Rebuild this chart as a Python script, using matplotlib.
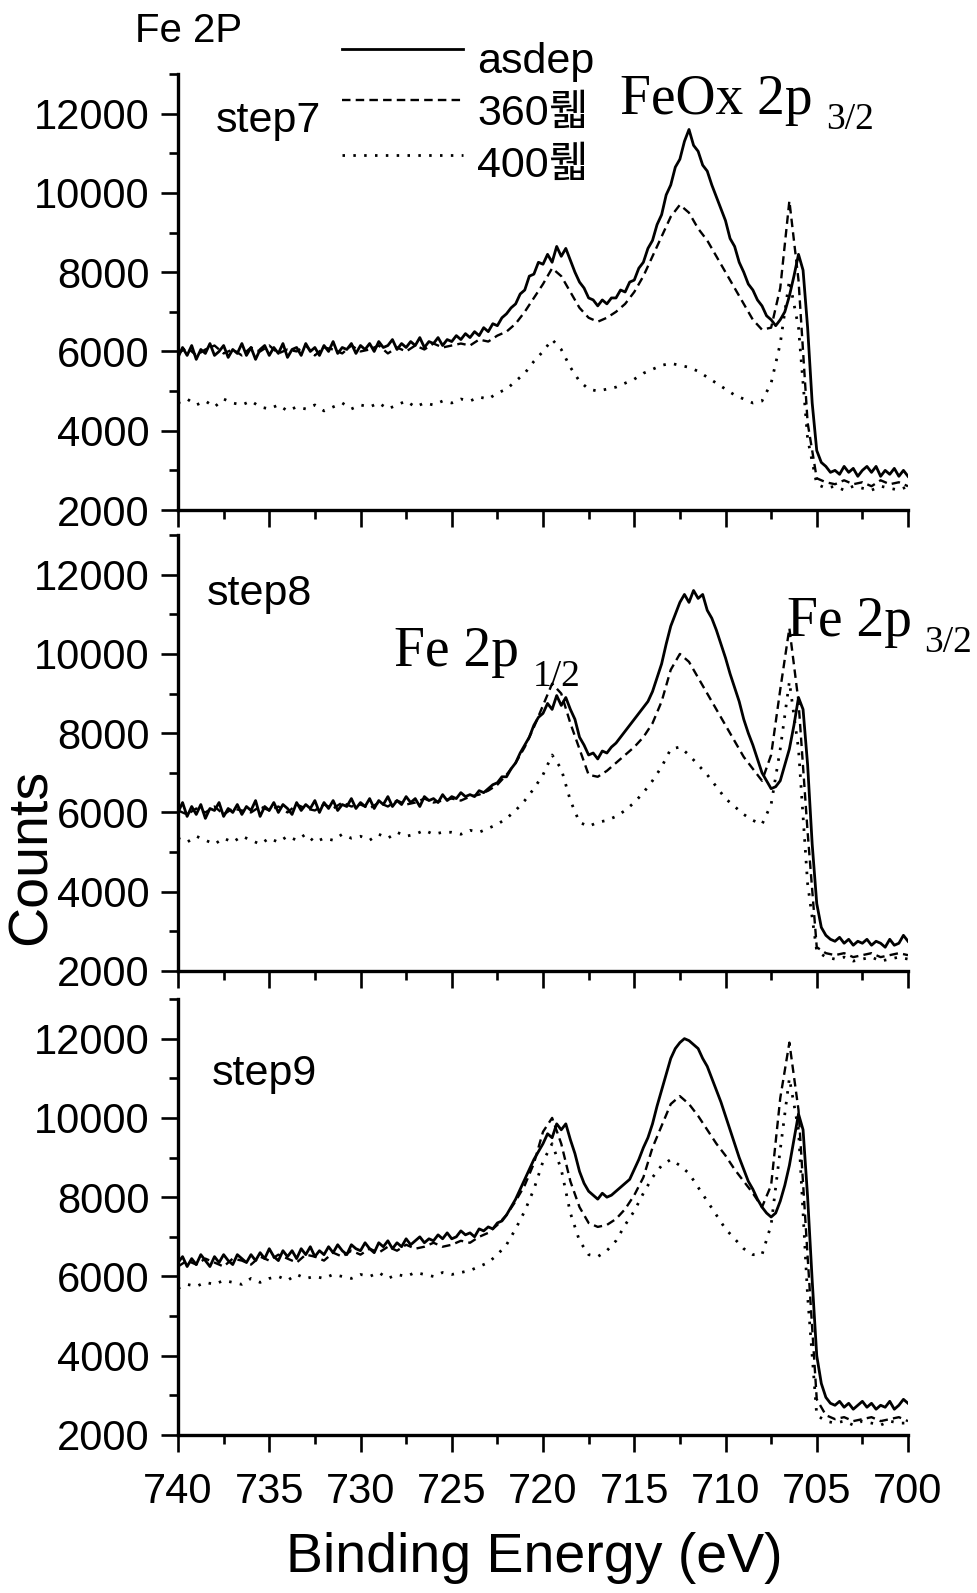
import numpy as np
import matplotlib
matplotlib.use("Agg")
import matplotlib.pyplot as plt
from matplotlib.lines import Line2D
from matplotlib.ticker import MultipleLocator

plt.rcParams['font.family'] = ['Liberation Sans', 'Noto Sans CJK KR']

# Binding-energy sampling grids (eV): asdep scans at 0.25 eV, annealed scans at 0.5 eV
energy_fine = np.linspace(740, 700, 161)
energy_coarse = np.linspace(740, 700, 81)

steps = ["step7", "step8", "step9"]
series_labels = ["asdep", "360뤫", "400뤫"]
xtick_values = [740, 735, 730, 725, 720, 715, 710, 705, 700]
ytick_values = [2000, 4000, 6000, 8000, 10000, 12000]

# ---- step7 ----
asdep_step7 = [
    5850, 6100, 5900, 6150, 5800, 6050, 5950, 6200,   # 740 - 738.25
    5900, 6000, 6150, 5850, 6050, 5950, 6200, 5900,   # 738 - 736.25
    6100, 5800, 6050, 6150, 5900, 6100, 5950, 6200,   # 736 - 734.25
    5850, 6050, 6100, 5900, 6200, 6000, 6100, 5900,   # 734 - 732.25
    6150, 6000, 6250, 5950, 6100, 6050, 6200, 5950,   # 732 - 730.25
    6150, 6050, 6200, 6000, 6250, 6100, 6150, 6300,   # 730 - 728.25
    6050, 6200, 6100, 6250, 6150, 6350, 6100, 6250,   # 728 - 726.25
    6200, 6350, 6150, 6300, 6250, 6400, 6300, 6450,   # 726 - 724.25
    6350, 6500, 6400, 6600, 6500, 6700, 6650, 6850,   # 724 - 722.25
    6950, 7100, 7200, 7450, 7550, 7900, 7950, 8250,   # 722 - 720.25
    8200, 8450, 8250, 8650, 8400, 8600, 8300, 8000,   # 720 - 718.25
    7750, 7600, 7350, 7300, 7150, 7300, 7200, 7350,   # 718 - 716.25
    7350, 7550, 7500, 7750, 7800, 8100, 8250, 8600,   # 716 - 714.25
    8800, 9200, 9450, 9950, 10200, 10650, 10850, 11300,  # 714 - 712.25
    11600, 11200, 11050, 10700, 10550, 10200, 9900, 9600,  # 712 - 710.25
    9300, 8850, 8650, 8250, 8000, 7700, 7550, 7300,   # 710 - 708.25
    7150, 6900, 6800, 6650, 6800, 7000, 7400, 7900,   # 708 - 706.25
    8450, 8050, 6600, 4700, 3500, 3200, 3100, 2950,   # 706 - 704.25
    3000, 2900, 3100, 2950, 3050, 2850, 3000, 3100,   # 704 - 702.25
    2950, 3100, 2850, 3000, 2900, 3050, 2850, 3000,   # 702 - 700.25
    2850,                                             # 700
]
ann360_step7 = [
    5950, 6100, 5900, 6050, 6150, 5950, 6050, 5900, 6100, 6000,   # 740 - 735.5
    6150, 5950, 6050, 6000, 6150, 5900, 6100, 6050, 5950, 6150,   # 735 - 730.5
    6000, 6050, 6150, 5950, 6100, 6000, 6150, 6050, 6200, 6100,   # 730 - 725.5
    6150, 6200, 6150, 6300, 6250, 6400, 6500, 6700, 7000, 7350,   # 725 - 720.5
    7700, 8100, 7900, 7500, 7100, 6850, 6750, 6850, 7000, 7200,   # 720 - 715.5
    7500, 7900, 8400, 8900, 9400, 9700, 9500, 9100, 8800, 8400,   # 715 - 710.5
    8000, 7600, 7200, 6800, 6550, 6600, 7600, 9800, 7800, 4200,   # 710 - 705.5
    2800, 2700, 2650, 2750, 2650, 2700, 2600, 2750, 2650, 2700,   # 705 - 700.5
    2600,
]
ann400_step7 = [
    4700, 4800, 4650, 4750, 4600, 4800, 4700, 4650, 4750, 4600,
    4550, 4650, 4500, 4600, 4550, 4650, 4500, 4600, 4700, 4550,
    4650, 4600, 4700, 4550, 4650, 4750, 4600, 4700, 4650, 4750,
    4700, 4800, 4750, 4850, 4800, 4950, 5050, 5250, 5450, 5750,
    6000, 6300, 6050, 5600, 5250, 5050, 5000, 5050, 5100, 5200,
    5300, 5450, 5550, 5650, 5700, 5650, 5600, 5500, 5350, 5200,
    5050, 4900, 4800, 4700, 4750, 5200, 6200, 7800, 6600, 3800,
    2650, 2550, 2600, 2500, 2600, 2550, 2500, 2600, 2550, 2500,
    2600,
]

# ---- step8 ----
asdep_step8 = [
    6000, 6250, 5900, 6150, 5950, 6200, 5850, 6100,
    6050, 6250, 5900, 6100, 6000, 6200, 5950, 6150,
    6050, 6300, 5900, 6150, 6050, 6250, 6000, 6200,
    6100, 5950, 6250, 6050, 6200, 6100, 6300, 6000,
    6250, 6100, 6300, 6050, 6200, 6150, 6350, 6100,
    6250, 6150, 6350, 6100, 6300, 6200, 6400, 6150,
    6300, 6200, 6400, 6250, 6350, 6150, 6400, 6300,
    6350, 6250, 6450, 6300, 6400, 6350, 6500, 6400,
    6450, 6400, 6550, 6500, 6600, 6700, 6750, 6900,
    6900, 7100, 7250, 7500, 7700, 7900, 8200, 8400,
    8500, 8750, 8600, 8950, 8700, 8900, 8600, 8350,
    7900, 7700, 7450, 7500, 7350, 7550, 7500, 7650,
    7750, 7900, 8050, 8200, 8350, 8500, 8650, 8800,
    9050, 9400, 9750, 10250, 10700, 11000, 11300, 11500,
    11300, 11600, 11400, 11500, 11100, 10900, 10600, 10250,
    9900, 9500, 9150, 8800, 8350, 8000, 7700, 7350,
    7000, 6800, 6600, 6650, 6800, 7200, 7600, 8200,
    8900, 8600, 7200, 5200, 3700, 3100, 2900, 2800,
    2750, 2850, 2700, 2800, 2650, 2750, 2700, 2800,
    2650, 2750, 2700, 2600, 2800, 2650, 2700, 2900,
    2750,
]
ann360_step8 = [
    6050, 5950, 6100, 6000, 6150, 5950, 6100, 6050, 6000, 6150,
    6050, 6150, 6000, 6200, 6100, 6050, 6200, 6100, 6250, 6150,
    6200, 6100, 6250, 6150, 6300, 6200, 6250, 6350, 6250, 6300,
    6350, 6300, 6400, 6450, 6550, 6700, 6950, 7250, 7650, 8150,
    8700, 9250, 9000, 8250, 7600, 6950, 6900, 7050, 7250, 7450,
    7650, 7900, 8250, 8800, 9600, 10000, 9800, 9400, 9000, 8600,
    8200, 7800, 7400, 7100, 6800, 7450, 9100, 10650, 8800, 5500,
    2600, 2450, 2400, 2450, 2350, 2400, 2450, 2350, 2400, 2450,
    2400,
]
ann400_step8 = [
    5350, 5250, 5400, 5300, 5200, 5350, 5250, 5400, 5300, 5200,
    5350, 5250, 5400, 5300, 5450, 5250, 5350, 5300, 5450, 5350,
    5400, 5300, 5450, 5350, 5500, 5400, 5450, 5550, 5450, 5500,
    5500, 5450, 5550, 5500, 5600, 5700, 5850, 6050, 6300, 6600,
    6950, 7450, 7100, 6300, 5750, 5650, 5750, 5800, 5900, 6050,
    6250, 6500, 6800, 7150, 7600, 7650, 7450, 7200, 6950, 6650,
    6350, 6150, 5950, 5800, 5700, 6200, 7600, 9300, 7600, 4200,
    2500, 2350, 2300, 2350, 2250, 2300, 2350, 2250, 2300, 2350,
    2300,
]

# ---- step9 ----
asdep_step9 = [
    6350, 6500, 6250, 6450, 6300, 6550, 6400, 6250,
    6500, 6350, 6550, 6400, 6300, 6550, 6450, 6350,
    6550, 6400, 6600, 6450, 6700, 6500, 6400, 6650,
    6500, 6650, 6450, 6700, 6550, 6750, 6500, 6650,
    6550, 6750, 6600, 6800, 6650, 6550, 6800, 6700,
    6650, 6850, 6700, 6600, 6850, 6750, 6900, 6700,
    6850, 6750, 6950, 6800, 6900, 7000, 6850, 6950,
    6900, 7050, 6950, 7100, 6950, 7000, 7150, 7050,
    7100, 7000, 7200, 7150, 7250, 7200, 7350, 7400,
    7550, 7750, 7950, 8200, 8450, 8700, 8950, 9150,
    9350, 9600, 9500, 9850, 9700, 9850, 9450, 9100,
    8650, 8350, 8150, 8050, 7950, 8100, 8000, 8050,
    8150, 8250, 8350, 8450, 8700, 8950, 9250, 9500,
    9850, 10300, 10700, 11100, 11500, 11750, 11900, 12000,
    11950, 11850, 11750, 11500, 11300, 11000, 10700, 10400,
    10050, 9700, 9350, 9000, 8700, 8400, 8200, 7950,
    7750, 7600, 7500, 7600, 7900, 8300, 8800, 9450,
    10100, 9700, 8000, 5900, 4000, 3300, 2950, 2800,
    2750, 2850, 2700, 2800, 2650, 2750, 2850, 2700,
    2800, 2650, 2750, 2700, 2850, 2650, 2750, 2900,
    2800,
]
ann360_step9 = [
    6250, 6400, 6300, 6450, 6350, 6250, 6450, 6400, 6300, 6500,
    6400, 6550, 6450, 6350, 6550, 6500, 6400, 6600, 6500, 6650,
    6550, 6700, 6600, 6750, 6650, 6800, 6700, 6750, 6850, 6750,
    6800, 6900, 6850, 7000, 7100, 7300, 7550, 7900, 8300, 8850,
    9650, 10000, 9350, 8400, 7750, 7350, 7250, 7300, 7450, 7700,
    8050, 8500, 9250, 9800, 10350, 10550, 10350, 10050, 9700, 9350,
    9050, 8700, 8400, 8100, 7750, 8300, 10500, 11900, 10200, 6500,
    2900, 2500, 2400, 2450, 2350, 2400, 2450, 2350, 2400, 2450,
    2350,
]
ann400_step9 = [
    5700, 5800, 5750, 5850, 5800, 5900, 5850, 5800, 5950, 5850,
    5950, 6000, 5900, 6050, 5950, 6000, 5950, 6050, 6000, 5950,
    6050, 6000, 6100, 5950, 6050, 6000, 6100, 6050, 6000, 6100,
    6050, 6100, 6150, 6250, 6350, 6550, 6800, 7200, 7650, 8200,
    8900, 9350, 8700, 7600, 6900, 6550, 6500, 6650, 6900, 7300,
    7650, 8100, 8500, 8800, 8950, 8800, 8600, 8250, 7900, 7550,
    7200, 6950, 6700, 6550, 6550, 7300, 9200, 11000, 9700, 5500,
    2500, 2350, 2300, 2350, 2250, 2350, 2300, 2250, 2350, 2300,
    2300,
]

asdep_all = [asdep_step7, asdep_step8, asdep_step9]
ann360_all = [ann360_step7, ann360_step8, ann360_step9]
ann400_all = [ann400_step7, ann400_step8, ann400_step9]
for a in asdep_all:
    assert len(a) == len(energy_fine)
for a in ann360_all + ann400_all:
    assert len(a) == len(energy_coarse)

W, H = 977, 1593
fig = plt.figure(figsize=(W / 100, H / 100), dpi=100)


def fx(x):
    return x / W


def fy(y):
    return 1 - y / H


solid_kw = dict(color='black', lw=2.0, linestyle='-')
dash_kw = dict(color='black', lw=1.7, linestyle=(0, (3.6, 2.2)))
dot_kw = dict(color='black', lw=2.0, linestyle=(0, (0.9, 3.0)))

panel_rows = [(74, 510), (535, 971), (999, 1435)]
left_px, right_px = 178, 908
step_label_pos = [(216, 132), (207, 605), (212, 1085)]

axes = []
for k, (top, bottom) in enumerate(panel_rows):
    ax = fig.add_axes([fx(left_px), fy(bottom), (right_px - left_px) / W,
                       (bottom - top) / H])
    ax.plot(energy_fine, asdep_all[k], **solid_kw)
    ax.plot(energy_coarse, ann360_all[k], **dash_kw)
    ax.plot(energy_coarse, ann400_all[k], **dot_kw)
    ax.set_xlim(740, 700)
    ax.set_ylim(2000, 13000)
    ax.set_xticks(xtick_values)
    ax.xaxis.set_minor_locator(MultipleLocator(2.5))
    ax.set_yticks(ytick_values)
    ax.yaxis.set_minor_locator(MultipleLocator(1000))
    for s in ('top', 'right'):
        ax.spines[s].set_visible(False)
    for s in ('left', 'bottom'):
        ax.spines[s].set_linewidth(2.4)
    ax.tick_params(which='major', direction='out', length=12.5, width=1.9,
                   labelsize=30, pad=8)
    ax.tick_params(which='minor', direction='out', length=6.5, width=1.9)
    ax.tick_params(axis='x', which='major', pad=14)
    if k < 2:
        ax.tick_params(axis='x', labelbottom=False)
    ax.patch.set_alpha(0)
    lx, ly = step_label_pos[k]
    fig.text(fx(lx), fy(ly), steps[k], fontsize=31, va='baseline', ha='left')
    axes.append(ax)

# axis titles
fig.text(fx(32), fy(857), "Counts", fontsize=40, rotation=90,
         ha='center', va='center')
fig.text(fx(534), fy(1572), "Binding Energy (eV)", fontsize=40,
         ha='center', va='baseline')
fig.text(fx(135), fy(42), "Fe 2P", fontsize=29, ha='left', va='baseline')

# legend
legend_rows = [(49, 73, solid_kw), (100, 125, dash_kw), (155, 177, dot_kw)]
for (line_y, text_y, kw), lab in zip(legend_rows, series_labels):
    fig.add_artist(Line2D([fx(342), fx(463)], [fy(line_y), fy(line_y)], **kw))
    fig.text(fx(477), fy(text_y), lab, fontsize=31, ha='left', va='baseline')

# peak annotations
serif = ['Liberation Serif']
fig.text(fx(620), fy(114), "FeOx 2p", fontsize=40, family=serif,
         ha='left', va='baseline')
fig.text(fx(826), fy(129), "3/2", fontsize=27, family=serif,
         ha='left', va='baseline')
fig.text(fx(394), fy(666), "Fe 2p", fontsize=40, family=serif,
         ha='left', va='baseline')
fig.text(fx(533), fy(686), "1/2", fontsize=27, family=serif,
         ha='left', va='baseline')
fig.text(fx(787), fy(636), "Fe 2p", fontsize=40, family=serif,
         ha='left', va='baseline')
fig.text(fx(924), fy(652), "3/2", fontsize=27, family=serif,
         ha='left', va='baseline')

fig.savefig("out.png", dpi=100, facecolor='white')
